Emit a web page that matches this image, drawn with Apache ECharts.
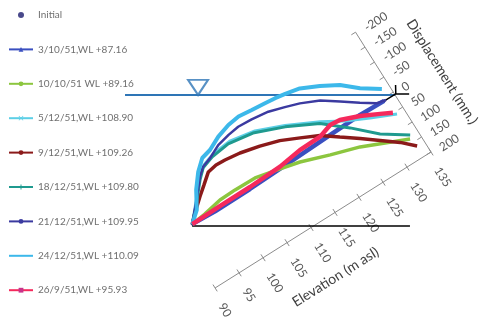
<!DOCTYPE html>
<html>
<head>
<meta charset="utf-8">
<script src="https://cdn.jsdelivr.net/npm/echarts@6/dist/echarts.min.js"></script>
<style>
  html, body { margin: 0; padding: 0; background: #fff; }
  #chart { width: 488px; height: 321px; }
</style>
</head>
<body>
<div id="chart"></div>
<script>
// axis ticks
const elevTicks = [90, 95, 100, 105, 110, 115, 120, 125, 130, 135];
const dispTicks = [-200, -150, -100, -50, 0, 50, 100, 150, 200];

// profiles, [elevation (m asl), displacement (mm)]
const initial = [[92.6, 13], [97.2, 16.8], [104.5, 15.9], [113.0, 11.6], [121.5, 7.4], [127.9, 4.7], [132.8, 7.3]];
const wl8716 = [[92.6, 13], [97.2, 16.8], [104.5, 15.9], [113.0, 11.6], [121.5, 7.4], [127.9, 4.7], [132.8, 7.3]];
const wl8916 = [[92.6, 13], [95.4, 8.0], [99.0, -2.9], [102.2, -4.3], [106.3, -2.8], [110.9, 13.3], [114.5, 26.7],
  [119.7, 55.2], [124.9, 81.1], [129.0, 109.3], [133.1, 137.3]];
const wl10890 = [[92.6, 13], [95.1, -31.9], [98.3, -90.3], [99.9, -110.6], [102.3, -123.4], [106.0, -128.9],
  [110.7, -115.2], [115.7, -83.1], [121.3, -38.8], [125.1, -3.6], [129.1, 26.9], [133.5, 58.0]];
const wl10926 = [[92.6, 13], [94.0, -8.8], [96.3, -40.8], [98.0, -62.8], [99.9, -87.5], [101.7, -92.6], [103.5, -91.0],
  [106.4, -85.1], [110.0, -71.7], [113.5, -54.8], [116.8, -30.7], [120.0, -6.5], [122.8, 27.1], [125.7, 60.8],
  [128.5, 95.7], [131.3, 130.6], [133.5, 164.6]];
const wl10980 = [[92.6, 13], [95.0, -27.1], [97.9, -80.8], [99.5, -105.0], [101.9, -117.7], [105.5, -124.7],
  [110.2, -113.4], [115.6, -79.6], [121.1, -35.2], [125.2, 20.7], [129.1, 80.2], [133.5, 127.8]];
const wl10995 = [[92.6, 13], [95.1, -31.2], [98.2, -88.7], [99.6, -107.7], [101.4, -117.6], [103.9, -136.9],
  [106.4, -145.7], [108.6, -150.6], [111.3, -148.1], [114.5, -141.2], [117.4, -127.4], [120.0, -113.6],
  [123.3, -89.7], [126.2, -57.2], [129.0, -24.7], [131.5, 1.9], [133.2, 8.0]];
const wl11009 = [[92.6, 13], [94.6, -14], [96.4, -63], [98.4, -103], [100.3, -130], [102.2, -137.5], [104.7, -156.8],
  [107.3, -169.6], [109.6, -174.5], [112.2, -170.3], [114.8, -166.3], [116.8, -163.2], [118.7, -158.4],
  [121.4, -149.5], [124.6, -124.9], [127.7, -97.2], [130.4, -59.2], [133.6, -24.8]];
const wl9593 = [[92.6, 13], [98.4, 11.5], [104.7, 11.2], [111.1, 7.8], [115.6, -2.0], [119.9, -3.7], [122.5, -16.5],
  [124.4, -13.5], [127.8, 7.0], [131.0, 32.4], [133.0, 48.9]];

// reference lines in the same frame
const waterLine = [[94.7, -397], [135.0, 9.5]];
const waterMark = [[106.3, -305]];
const baseLine = [[92.4, 17.1], [124.9, 345.3]];
const zeroMark = [[132.6, 7.5], [135.2, 8.3], [136.0, -13.3], [135.2, 8.3], [137.2, 28.3]];

const elevTitleAt = 109;
const dispTitleAt = 25;

// the plot frame is tilted: elevation runs up to the right, displacement down to the right
const FONT = 'Lato, "Open Sans", sans-serif';
const TILT = 32.2 * Math.PI / 180;
const PX_PER_M = 5.67;
const PX_PER_MM = 0.354;
const ELEV_MAX = 135;
const DISP_MAX = 200;
const along = [Math.cos(TILT), -Math.sin(TILT)];
const across = [Math.sin(TILT), Math.cos(TILT)];
const AXIS = '#8c8c8c';
const LABEL = '#595959';

function toXY([e, d]) {
  const a = (e - ELEV_MAX) * PX_PER_M;
  const b = (d - DISP_MAX) * PX_PER_MM;
  return [a * along[0] + b * across[0], a * along[1] + b * across[1]];
}
const pts = (arr) => arr.map(toXY);
const shift = (p, dir, k) => [p[0] + dir[0] * k, p[1] + dir[1] * k];

const X_PATH = 'path://M0,1L1,0L5,4L9,0L10,1L6,5L10,9L9,10L5,6L1,10L0,9L4,5Z';
const PLUS_PATH = 'path://M4,0h2v4h4v2h-4v4h-2v-4h-4v-2h4z';

function profile(name, data, color, width, symbol, markColor) {
  return {
    name,
    type: 'line',
    data: pts(data),
    symbol,
    showSymbol: false,
    lineStyle: { color, width },
    itemStyle: { color: markColor || color },
    emphasis: { disabled: true },
  };
}

function plain(data, color, width, z) {
  return {
    type: 'line',
    data: pts(data),
    symbol: 'none',
    silent: true,
    z,
    lineStyle: { color, width },
  };
}

const chart = echarts.init(document.getElementById('chart'));

chart.setOption({
  animation: false,
  backgroundColor: '#fff',
  textStyle: { fontFamily: FONT },
  grid: { left: 0, right: 0, top: 0, bottom: 0 },
  xAxis: { type: 'value', min: -431, max: 57, show: false },
  yAxis: { type: 'value', min: -152, max: 169, inverse: true, show: false },
  legend: {
    orient: 'vertical',
    left: 3,
    top: 3,
    itemWidth: 24,
    itemHeight: 6,
    itemGap: 20.4,
    textStyle: { fontSize: 10, lineHeight: 14, color: '#707070', fontFamily: FONT },
    lineStyle: { width: 2 },
    data: [
      { name: 'Initial', icon: 'circle', itemStyle: { color: '#1c1c6e' } },
      '3/10/51,WL +87.16',
      '10/10/51 WL +89.16',
      '5/12/51,WL +108.90',
      '9/12/51,WL +109.26',
      '18/12/51,WL +109.80',
      '21/12/51,WL +109.95',
      { name: '24/12/51,WL +110.09', itemStyle: { opacity: 0 } },
      '26/9/51,WL +95.93',
    ],
  },
  series: [
    // axes
    plain([[elevTicks[0], DISP_MAX], [ELEV_MAX, DISP_MAX]], AXIS, 1, 1),
    plain([[ELEV_MAX, dispTicks[0]], [ELEV_MAX, DISP_MAX]], AXIS, 1, 1),
    {
      type: 'custom',
      silent: true,
      z: 1,
      data: elevTicks.map((v) => [...toXY([v, DISP_MAX]), v]),
      renderItem: (params, api) => {
        const p = api.coord([api.value(0), api.value(1)]);
        const a = shift(p, across, -4);
        const b = shift(p, across, 4);
        const t = shift(shift(p, across, 17), along, -3.5);
        return {
          type: 'group',
          children: [
            { type: 'line', shape: { x1: a[0], y1: a[1], x2: b[0], y2: b[1] }, style: { stroke: AXIS, lineWidth: 1 } },
            {
              type: 'text', x: t[0], y: t[1], rotation: -(Math.PI / 2 - TILT),
              style: { text: String(api.value(2)), fill: LABEL, font: `12px ${FONT}`, align: 'left', verticalAlign: 'middle' },
            },
          ],
        };
      },
    },
    {
      type: 'custom',
      silent: true,
      z: 1,
      data: dispTicks.map((v) => [...toXY([ELEV_MAX, v]), v]),
      renderItem: (params, api) => {
        const p = api.coord([api.value(0), api.value(1)]);
        const a = shift(p, along, -5);
        const t = shift(shift(p, along, 10), across, 2);
        return {
          type: 'group',
          children: [
            { type: 'line', shape: { x1: a[0], y1: a[1], x2: p[0], y2: p[1] }, style: { stroke: AXIS, lineWidth: 1 } },
            {
              type: 'text', x: t[0], y: t[1], rotation: TILT,
              style: { text: String(api.value(2)), fill: LABEL, font: `12px ${FONT}`, align: 'left', verticalAlign: 'middle' },
            },
          ],
        };
      },
    },
    {
      type: 'custom',
      silent: true,
      z: 1,
      data: [[...toXY([elevTitleAt, DISP_MAX]), 0], [...toXY([ELEV_MAX, dispTitleAt]), 1]],
      renderItem: (params, api) => {
        const p = api.coord([api.value(0), api.value(1)]);
        const isElev = api.value(2) === 0;
        const t = isElev ? shift(p, across, 55) : shift(p, along, 52);
        return {
          type: 'text', x: t[0], y: t[1], rotation: isElev ? TILT : -(Math.PI / 2 - TILT),
          style: {
            text: isElev ? 'Elevation (m asl)' : 'Displacement (mm.)',
            fill: '#404040', font: `14px ${FONT}`, align: 'center', verticalAlign: 'middle',
          },
        };
      },
    },

    // base and water level
    plain(baseLine, '#000', 1.5, 2),
    plain(waterLine, '#2e75b6', 2, 2),
    plain(zeroMark, '#000', 1.5, 2),
    {
      type: 'scatter',
      data: pts(waterMark),
      symbol: 'triangle',
      symbolRotate: 180,
      symbolSize: [20, 15],
      silent: true,
      z: 3,
      itemStyle: { color: '#fff', borderColor: '#2e75b6', borderWidth: 2 },
    },

    // profiles
    {
      name: 'Initial',
      type: 'scatter',
      data: pts(initial),
      symbol: 'diamond',
      symbolSize: 4,
      itemStyle: { color: '#1c1c6e' },
      emphasis: { disabled: true },
    },
    profile('3/10/51,WL +87.16', wl8716, '#3a4fc0', 4.5, 'triangle'),
    profile('10/10/51 WL +89.16', wl8916, '#8cc63f', 3.5, 'circle'),
    profile('5/12/51,WL +108.90', wl10890, '#5ccfe6', 3, X_PATH),
    profile('9/12/51,WL +109.26', wl10926, '#8b1a1a', 3.5, 'circle'),
    profile('18/12/51,WL +109.80', wl10980, '#1f9a8f', 3, PLUS_PATH),
    profile('21/12/51,WL +109.95', wl10995, '#3b3aa0', 2.5, 'circle'),
    profile('24/12/51,WL +110.09', wl11009, '#3cb8ea', 4, 'none'),
    profile('26/9/51,WL +95.93', wl9593, '#f5295c', 4.5, 'rect', '#c8338a'),
  ],
});
</script>
</body>
</html>
